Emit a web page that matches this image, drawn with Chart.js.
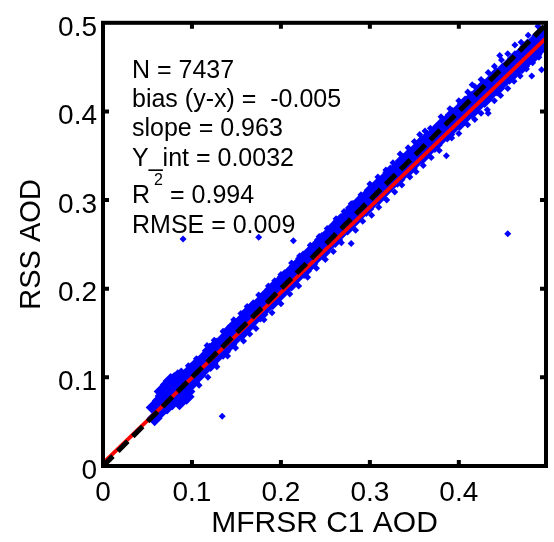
<!DOCTYPE html>
<html>
<head>
<meta charset="utf-8">
<script src="https://cdn.jsdelivr.net/npm/chart.js@4.4.1/dist/chart.umd.min.js"></script>
<style>
  body { margin: 0; background: #fff; }
  canvas { display: block; }
</style>
</head>
<body>
<canvas id="aodChart" width="554" height="542"></canvas>
<script>
// axis ticks
const xTicks = [0, 0.1, 0.2, 0.3, 0.4];
const yTicks = [0, 0.1, 0.2, 0.3, 0.4, 0.5];

// regression stats shown in the box
const nPoints = 7437;
const bias = -0.005;
const fitSlope = 0.963;
const fitIntercept = 0.0032;
const rSquared = 0.994;
const rmse = 0.009;

// dense part of the cloud (MFRSR, RSS), upper and lower halves of the band
const bandUpper = [
  [0.057,0.066],[0.064,0.074],[0.071,0.083],[0.078,0.089],[0.085,0.094],[0.092,0.100],[0.099,0.108],[0.106,0.115],
  [0.113,0.121],[0.120,0.130],[0.127,0.136],[0.134,0.141],[0.141,0.151],[0.148,0.158],[0.155,0.163],[0.162,0.172],
  [0.169,0.179],[0.176,0.184],[0.183,0.192],[0.190,0.199],[0.197,0.205],[0.204,0.213],[0.211,0.219],[0.218,0.226],
  [0.225,0.234],[0.232,0.240],[0.239,0.247],[0.246,0.255],[0.253,0.261],[0.260,0.269],[0.267,0.276],[0.274,0.282],
  [0.281,0.291],[0.288,0.297],[0.295,0.303],[0.302,0.311],[0.309,0.317],[0.316,0.323],[0.323,0.331],[0.330,0.336],
  [0.337,0.344],[0.344,0.350],[0.351,0.356],[0.358,0.364],[0.365,0.370],[0.372,0.375],[0.379,0.383],[0.386,0.388],
  [0.393,0.396],[0.400,0.401],[0.407,0.409],[0.414,0.414],[0.421,0.420],[0.428,0.428],[0.435,0.433],[0.442,0.441],
  [0.449,0.446],[0.456,0.452],[0.463,0.460],[0.470,0.465],[0.477,0.473],[0.484,0.478],[0.491,0.486],[0.497,0.490]
];
const bandLower = [
  [0.058,0.054],[0.065,0.062],[0.072,0.067],[0.079,0.075],[0.086,0.080],[0.093,0.089],[0.100,0.094],[0.107,0.102],
  [0.114,0.110],[0.121,0.115],[0.128,0.124],[0.135,0.129],[0.142,0.137],[0.149,0.145],[0.156,0.150],[0.163,0.158],
  [0.170,0.166],[0.177,0.171],[0.184,0.180],[0.191,0.185],[0.198,0.193],[0.205,0.201],[0.212,0.206],[0.219,0.215],
  [0.226,0.220],[0.233,0.228],[0.240,0.236],[0.247,0.241],[0.254,0.250],[0.261,0.255],[0.268,0.264],[0.275,0.269],
  [0.282,0.277],[0.289,0.285],[0.296,0.290],[0.303,0.298],[0.310,0.303],[0.317,0.311],[0.324,0.318],[0.331,0.323],
  [0.338,0.331],[0.345,0.336],[0.352,0.344],[0.359,0.349],[0.366,0.357],[0.373,0.362],[0.380,0.370],[0.387,0.374],
  [0.394,0.383],[0.401,0.387],[0.408,0.395],[0.415,0.400],[0.422,0.408],[0.429,0.413],[0.436,0.421],[0.443,0.426],
  [0.450,0.434],[0.457,0.439],[0.464,0.447],[0.471,0.451],[0.478,0.459],[0.485,0.464],[0.492,0.472]
];
// the lump near 0.08
const lump = [
  [0.066,0.084],[0.073,0.092],[0.080,0.097],[0.088,0.102],[0.078,0.072],[0.086,0.072],[0.094,0.078],[0.070,0.076],
  [0.076,0.096],[0.084,0.100],[0.091,0.082]
];
// single points along the edges of the band
const edgeUpper = [
  [0.062,0.079],[0.096,0.113],[0.117,0.136],[0.125,0.142],[0.147,0.165],[0.162,0.180],[0.186,0.203],[0.200,0.216],
  [0.221,0.237],[0.243,0.259],[0.262,0.279],[0.279,0.296],[0.300,0.318],[0.318,0.334],[0.334,0.352],[0.350,0.366],
  [0.362,0.378],[0.368,0.381],[0.390,0.403],[0.410,0.422],[0.425,0.436],[0.440,0.451],[0.455,0.465],[0.478,0.486],
  [0.489,0.496],
  [0.105,0.121],[0.135,0.152],[0.155,0.172],[0.175,0.193],[0.193,0.209],[0.212,0.229],[0.233,0.249],[0.252,0.268],
  [0.271,0.287],[0.290,0.306],[0.309,0.326],[0.326,0.342],[0.343,0.359],[0.356,0.374],[0.380,0.394],[0.400,0.412],
  [0.418,0.428],[0.433,0.444],[0.448,0.458],[0.470,0.478]
];
const edgeLower = [
  [0.100,0.084],[0.118,0.100],[0.140,0.124],[0.158,0.141],[0.172,0.155],[0.190,0.173],[0.210,0.194],[0.230,0.213],
  [0.250,0.233],[0.268,0.252],[0.279,0.251],[0.292,0.276],[0.310,0.292],[0.328,0.309],[0.345,0.326],[0.360,0.339],
  [0.378,0.356],[0.386,0.350],[0.400,0.375],[0.418,0.391],[0.432,0.402],[0.447,0.418],[0.462,0.434],[0.476,0.448],
  [0.490,0.461],
  [0.108,0.091],[0.128,0.112],[0.149,0.133],[0.165,0.149],[0.181,0.165],[0.200,0.183],[0.220,0.203],[0.240,0.223],
  [0.259,0.242],[0.284,0.266],[0.302,0.283],[0.319,0.300],[0.336,0.317],[0.352,0.332],[0.369,0.348],[0.392,0.370],
  [0.410,0.385],[0.425,0.398],[0.440,0.412],[0.455,0.426],[0.469,0.440],[0.483,0.455]
];
const outliers = [
  [0.455,0.262],[0.134,0.056],[0.100,0.107],[0.090,0.256],[0.175,0.258],[0.214,0.254],
  [0.463,0.475],[0.446,0.463],[0.415,0.430],[0.433,0.398],[0.482,0.440],[0.493,0.447]
];

const xMax = 0.498;
const yMax = 0.5;

const toXY = (arr) => arr.map(p => ({ x: p[0], y: p[1] }));
const BLUE = '#0000ff';
const FONT = 'Liberation Sans, Arial, Helvetica, sans-serif';

// draws the box round the plot and the small inward ticks
const framePlugin = {
  id: 'frame',
  afterDatasetsDraw(chart) {
    const ctx = chart.ctx;
    const a = chart.chartArea;
    const sx = chart.scales.x, sy = chart.scales.y;
    ctx.save();
    ctx.strokeStyle = '#000';
    ctx.lineWidth = 4;
    ctx.beginPath();
    xTicks.slice(1).forEach(v => {
      const p = sx.getPixelForValue(v);
      ctx.moveTo(p, a.bottom); ctx.lineTo(p, a.bottom - 6);
      ctx.moveTo(p, a.top); ctx.lineTo(p, a.top + 6);
    });
    yTicks.slice(1, -1).forEach(v => {
      const p = sy.getPixelForValue(v);
      ctx.moveTo(a.left, p); ctx.lineTo(a.left + 6, p);
      ctx.moveTo(a.right, p); ctx.lineTo(a.right - 6, p);
    });
    ctx.stroke();
    ctx.strokeRect(a.left, a.top, a.right - a.left, a.bottom - a.top);
    ctx.restore();
  }
};

// the stats text in the upper left
const statsPlugin = {
  id: 'stats',
  afterDraw(chart) {
    const ctx = chart.ctx;
    ctx.save();
    ctx.fillStyle = '#000';
    ctx.textBaseline = 'alphabetic';
    ctx.textAlign = 'left';
    ctx.font = '25px ' + FONT;
    const x0 = 132;
    ctx.fillText('N = ' + nPoints, x0, 78);
    ctx.fillText('bias (y-x) =  ' + bias.toFixed(3), x0, 107);
    ctx.fillText('slope = ' + fitSlope.toFixed(3), x0, 136);
    ctx.fillText('Y_int = ' + fitIntercept.toFixed(4), x0, 166);
    ctx.fillText('R', x0, 203);
    ctx.fillText('= ' + rSquared.toFixed(3), 170, 203);
    ctx.fillText('RMSE = ' + rmse.toFixed(3), x0, 233);
    ctx.font = '16px ' + FONT;
    ctx.fillText('2', 154, 185);
    ctx.restore();
  }
};

const ctx = document.getElementById('aodChart').getContext('2d');

const chart = new Chart(ctx, {
  type: 'scatter',
  data: {
    datasets: [
      {
        label: '1:1',
        data: [{ x: 0, y: 0 }, { x: xMax, y: xMax }],
        showLine: true,
        borderColor: '#000',
        borderWidth: 5,
        borderDash: [14, 7],
        pointRadius: 0,
        clip: 0
      },
      {
        label: 'fit',
        data: [{ x: 0, y: fitIntercept }, { x: xMax, y: fitSlope * xMax + fitIntercept }],
        showLine: true,
        borderColor: '#ff0000',
        borderWidth: 4,
        pointRadius: 0,
        clip: 0
      },
      {
        label: 'edges',
        data: toXY(edgeUpper.concat(edgeLower, outliers)),
        pointStyle: 'rectRot',
        pointRadius: 3.5,
        pointBorderWidth: 0,
        backgroundColor: BLUE,
        borderColor: BLUE,
        clip: 0
      },
      {
        label: 'band',
        data: toXY(bandUpper.concat(bandLower, lump)),
        pointStyle: 'rectRot',
        pointRadius: 8,
        pointBorderWidth: 0,
        backgroundColor: BLUE,
        borderColor: BLUE,
        clip: 0
      }
    ]
  },
  options: {
    responsive: false,
    animation: false,
    devicePixelRatio: 1,
    layout: { padding: { top: 14, right: 2, left: 0, bottom: 0 } },
    plugins: {
      legend: { display: false },
      tooltip: { enabled: false }
    },
    scales: {
      x: {
        type: 'linear',
        min: 0,
        max: xMax,
        afterBuildTicks: (scale) => { scale.ticks = xTicks.map(v => ({ value: v })); },
        afterFit: (scale) => { scale.height = 76; },
        grid: { display: false, drawTicks: false },
        border: { display: false },
        ticks: {
          color: '#000',
          font: { family: FONT, size: 28 },
          padding: 10,
          maxRotation: 0,
          autoSkip: false,
          callback: (v) => String(v)
        },
        title: {
          display: true,
          text: 'MFRSR C1 AOD',
          color: '#000',
          font: { family: FONT, size: 30 },
          padding: { top: 0, bottom: 0 }
        }
      },
      y: {
        type: 'linear',
        min: 0,
        max: yMax,
        afterBuildTicks: (scale) => { scale.ticks = yTicks.map(v => ({ value: v })); },
        afterFit: (scale) => { scale.width = 103; },
        grid: { display: false, drawTicks: false },
        border: { display: false },
        ticks: {
          color: '#000',
          font: { family: FONT, size: 28 },
          padding: 6,
          labelOffset: 5,
          autoSkip: false,
          callback: (v) => String(v)
        },
        title: {
          display: true,
          text: 'RSS AOD',
          color: '#000',
          font: { family: FONT, size: 29 },
          padding: { top: 15, bottom: 0 }
        }
      }
    }
  },
  plugins: [framePlugin, statsPlugin]
});
</script>
</body>
</html>
